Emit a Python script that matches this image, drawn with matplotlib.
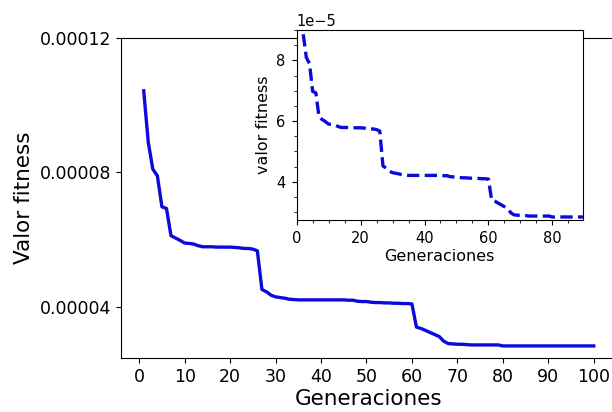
import matplotlib

matplotlib.use("Agg")

import matplotlib.pyplot as plt  # noqa: E402
import numpy as np  # noqa: E402
from matplotlib.ticker import AutoMinorLocator, FormatStrFormatter  # noqa: E402

# best fitness per generation, in units of 1e-5
generaciones = np.arange(1, 101)
fitness_e5 = [
    10.43, 8.90, 8.10, 7.90, 6.98, 6.93, 6.12, 6.05, 5.98, 5.90,
    5.89, 5.87, 5.82, 5.79, 5.79, 5.79, 5.78, 5.78, 5.78, 5.78,
    5.77, 5.76, 5.74, 5.74, 5.72, 5.67, 4.52, 4.45, 4.35, 4.30,
    4.28, 4.26, 4.23, 4.22, 4.21, 4.21, 4.21, 4.21, 4.21, 4.21,
    4.21, 4.21, 4.21, 4.21, 4.21, 4.20, 4.20, 4.17, 4.16, 4.16,
    4.14, 4.13, 4.13, 4.12, 4.12, 4.11, 4.11, 4.10, 4.10, 4.09,
    3.40, 3.36, 3.30, 3.24, 3.18, 3.12, 2.98, 2.91, 2.90, 2.89,
    2.89, 2.88, 2.87, 2.87, 2.87, 2.87, 2.87, 2.87, 2.87, 2.84,
    2.84, 2.84, 2.84, 2.84, 2.84, 2.84, 2.84, 2.84, 2.84, 2.84,
    2.84, 2.84, 2.84, 2.84, 2.84, 2.84, 2.84, 2.84, 2.84, 2.84,
]
fitness = np.array(fitness_e5) * 1e-5

main_xticks = list(range(0, 101, 10))
main_yticks = [4e-5, 8e-5, 1.2e-4]
inset_xticks = [0, 20, 40, 60, 80]
inset_yticks = [4e-5, 6e-5, 8e-5]

LINE_COLOR = "#0a0adc"

fig = plt.figure(figsize=(6.12, 4.12), dpi=100)

# main axes (right edge runs past the figure, as in the cropped original)
ax = fig.add_axes([0.1977, 0.131, 0.8096, 0.7767])
ax.plot(generaciones, fitness, color=LINE_COLOR, linewidth=2.4)
ax.set_xlim(-4, 105)
ax.set_ylim(2.48e-5, 1.2e-4)
ax.set_xticks(main_xticks)
ax.set_yticks(main_yticks)
ax.yaxis.set_major_formatter(FormatStrFormatter("%.5f"))
ax.tick_params(labelsize=12.5)
ax.set_xlabel("Generaciones", fontsize=15.5, labelpad=2)
ax.set_ylabel("Valor fitness", fontsize=15.5)

# inset
ins = fig.add_axes([0.4848, 0.466, 0.4673, 0.461])
ins.plot(generaciones, fitness, color=LINE_COLOR, linewidth=2.4, linestyle="--")
ins.set_xlim(0, 89.5)
ins.set_ylim(2.74e-5, 9e-5)
ins.set_xticks(inset_xticks)
ins.set_yticks(inset_yticks)
ins.xaxis.set_minor_locator(AutoMinorLocator(4))
ins.yaxis.set_minor_locator(AutoMinorLocator(4))
ins.ticklabel_format(axis="y", style="sci", scilimits=(0, 0))
ins.yaxis.get_offset_text().set_fontsize(10.5)
ins.tick_params(labelsize=10.5, pad=4.5)
ins.set_xlabel("Generaciones", fontsize=11.5, labelpad=2)
ins.set_ylabel("valor fitness", fontsize=11.5, labelpad=4)

fig.savefig("out.png", dpi=100, facecolor="white")
